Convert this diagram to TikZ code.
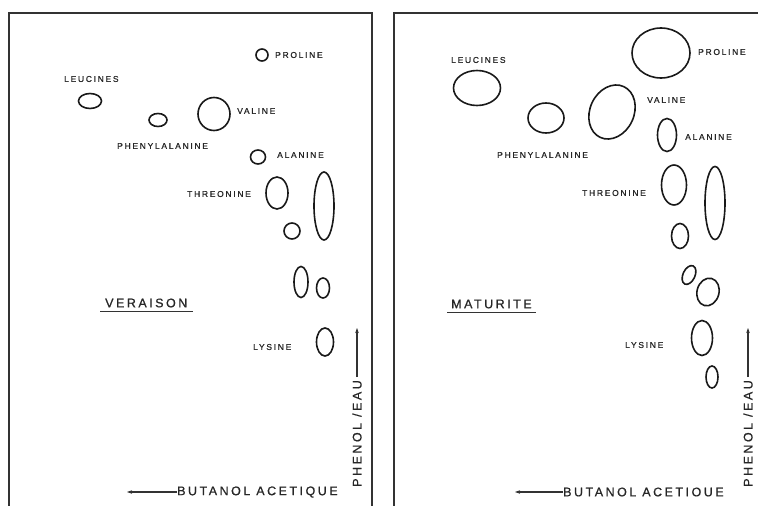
\documentclass[tikz,border=0pt]{standalone}
\usepackage{fontspec}
\newfontfamily\stencil{Liberation Sans}[LetterSpace=20,FakeBold=0.8]
\usetikzlibrary{arrows.meta}

\begin{document}
\begin{tikzpicture}[x=1pt,y=-1pt,>={Stealth[length=5pt,width=3.5pt]},
  frame/.style={black!80,line width=1.2pt},
  spot/.style={black!90,line width=1.6pt},
  amino/.style={font=\stencil\fontsize{8.5}{9}\selectfont,anchor=west,inner sep=0pt,text=black!85},
  stage/.style={font=\stencil\fontsize{12.5}{13}\selectfont,anchor=west,inner sep=0pt,text=black!85},
  solvent/.style={font=\stencil\fontsize{12.5}{13}\selectfont,anchor=west,inner sep=0pt,text=black!85}]
  \useasboundingbox (0,0) rectangle (758,506);

  % veraison
  \draw[frame] (9,506) -- (9,13) -- (372,13) -- (372,506);
  \draw[spot] (262,55) circle [radius=6pt];
  \draw[spot] (90,101) ellipse [x radius=11.5pt,y radius=7.5pt];
  \draw[spot] (158,120) ellipse [x radius=9pt,y radius=6.5pt];
  \draw[spot] (214,114) ellipse [x radius=16pt,y radius=16.5pt];
  \draw[spot] (258,157) ellipse [x radius=7.5pt,y radius=7pt];
  \draw[spot] (277,193) ellipse [x radius=11pt,y radius=16pt];
  \draw[spot] (324,206) ellipse [x radius=10pt,y radius=34pt];
  \draw[spot] (292,231) circle [radius=8pt];
  \draw[spot] (301,282) ellipse [x radius=7pt,y radius=15.5pt];
  \draw[spot] (323,288) ellipse [x radius=6.5pt,y radius=10pt];
  \draw[spot] (325,342) ellipse [x radius=8.5pt,y radius=14pt];
  \node[amino] (lpro) at (275,55) {PROLINE};
  \node[amino] (lleu) at (64,79) {LEUCINES};
  \node[amino] (lphe) at (117,146) {PHENYLALANINE};
  \node[amino] (lval) at (237,111) {VALINE};
  \node[amino] (lala) at (277,155) {ALANINE};
  \node[amino] (lthr) at (187,194) {THREONINE};
  \node[amino] (llys) at (253,347) {LYSINE};
  \node[stage] (lstage) at (105,303) {VERAISON};
  \draw[frame] ([xshift=-5pt,yshift=-4pt]lstage.south west) -- ([xshift=5pt,yshift=-4pt]lstage.south east);
  \node[solvent] (lbut) at (177,492) {BUTANOL ACETIQUE};
  \coordinate (lbutend) at (127,492);
  \draw[frame,->] (lbut.west) -- (lbutend);
  \node[solvent,rotate=90] (lphen) at (357,487) {PHENOL /EAU};
  \coordinate (lphenend) at (357,328);
  \draw[frame,->,shorten <=3pt] (lphen.east) -- (lphenend);

  % maturite
  \draw[frame] (394,506) -- (394,13) -- (758,13);
  \draw[spot] (661,53) ellipse [x radius=29pt,y radius=25pt];
  \draw[spot] (477,88) ellipse [x radius=23.5pt,y radius=17.5pt];
  \draw[spot] (546,118) ellipse [x radius=18pt,y radius=15pt];
  \draw[spot,rotate around={-25:(612,112)}] (612,112) ellipse [x radius=22pt,y radius=28pt];
  \draw[spot] (667,135) ellipse [x radius=9.5pt,y radius=16.5pt];
  \draw[spot] (674,185) ellipse [x radius=12.5pt,y radius=20pt];
  \draw[spot] (715,203) ellipse [x radius=10pt,y radius=36.5pt];
  \draw[spot] (680,236) ellipse [x radius=8.5pt,y radius=12.5pt];
  \draw[spot,rotate around={-25:(689,275)}] (689,275) ellipse [x radius=6pt,y radius=10pt];
  \draw[spot,rotate around={-15:(708,292)}] (708,292) ellipse [x radius=11pt,y radius=14pt];
  \draw[spot] (702,338) ellipse [x radius=10.5pt,y radius=17.5pt];
  \draw[spot] (712,377) ellipse [x radius=6pt,y radius=11pt];
  \node[amino] (rpro) at (698,52) {PROLINE};
  \node[amino] (rleu) at (451,60) {LEUCINES};
  \node[amino] (rphe) at (497,155) {PHENYLALANINE};
  \node[amino] (rval) at (647,100) {VALINE};
  \node[amino] (rala) at (685,137) {ALANINE};
  \node[amino] (rthr) at (582,193) {THREONINE};
  \node[amino] (rlys) at (625,345) {LYSINE};
  \node[stage] (rstage) at (451,304) {MATURITE};
  \draw[frame] ([xshift=-4pt,yshift=-4pt]rstage.south west) -- ([xshift=4pt,yshift=-4pt]rstage.south east);
  \node[solvent] (rbut) at (563,492) {BUTANOL ACETIOUE};
  \coordinate (rbutend) at (515,492);
  \draw[frame,->] (rbut.west) -- (rbutend);
  \node[solvent,rotate=90] (rphen) at (748,487) {PHENOL /EAU};
  \coordinate (rphenend) at (748,328);
  \draw[frame,->,shorten <=3pt] (rphen.east) -- (rphenend);
\end{tikzpicture}
\end{document}
